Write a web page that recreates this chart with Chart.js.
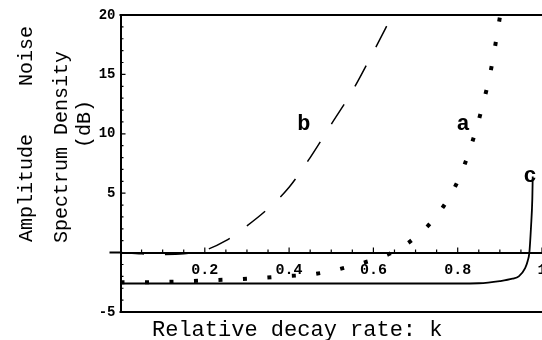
<!DOCTYPE html>
<html><head><meta charset="utf-8">
<script src="https://cdn.jsdelivr.net/npm/chart.js@4.4.1/dist/chart.umd.min.js"></script>
<style>html,body{margin:0;padding:0;background:#fff;overflow:hidden}canvas{display:block}</style>
</head><body>
<canvas id="c" width="542" height="340" style="width:542px;height:340px"></canvas>
<script>
// ---- data ----
const kA   = [0, 0.1, 0.2, 0.3, 0.4, 0.45, 0.5, 0.55, 0.6, 0.65, 0.7, 0.75, 0.8, 0.83, 0.86, 0.88, 0.9];
const valA = [-2.5, -2.47, -2.35, -2.2, -1.97, -1.85, -1.55, -1.1, -0.6, 0.1, 1.3, 3.1, 6.0, 8.8, 12.5, 15.6, 19.8];

const kB   = [0, 0.05, 0.1, 0.15, 0.2, 0.25, 0.3, 0.35, 0.4, 0.45, 0.5, 0.55, 0.6, 0.645];
const valB = [0, -0.1, -0.15, -0.1, 0.2, 1.0, 2.25, 3.7, 5.5, 8.0, 10.8, 13.6, 16.9, 20.0];

const kC   = [0, 0.2, 0.4, 0.6, 0.8, 0.85, 0.9, 0.93, 0.945, 0.96, 0.966, 0.97, 0.974, 0.977, 0.978];
const valC = [-2.6, -2.6, -2.6, -2.6, -2.6, -2.58, -2.4, -2.2, -2.0, -1.3, -0.7, 0.0, 2.2, 4.5, 6.4];

const xTicks = [0.2, 0.4, 0.6, 0.8, 1];
const xTickLabels = ['0.2', '0.4', '0.6', '0.8', '1'];
const yTicks = [-5, 5, 10, 15, 20];
const yTickLabels = ['-5', '5', '10', '15', '20'];

const curveNames = ['a', 'b', 'c'];
const curveLabelK = [0.8126, 0.435, 0.9715];
const curveLabelV = [10.3, 10.3, 5.95];

const yTitleLines = ['Amplitude    Noise', 'Spectrum Density', '(dB)'];
const xTitle = 'Relative decay rate: k';

// ---- chart ----
const MONO = "'Liberation Mono', 'Courier New', monospace";
const pts = (ks, vs) => ks.map((k, i) => ({x: k, y: vs[i]}));

const decor = {
  id: 'decor',
  afterDraw(chart) {
    const {ctx, chartArea: a, scales: {x, y}} = chart;
    const y0 = y.getPixelForValue(0);
    ctx.save();
    ctx.strokeStyle = '#000';
    ctx.fillStyle = '#000';
    ctx.lineWidth = 2;
    ctx.beginPath();
    ctx.moveTo(a.left - 1, a.top); ctx.lineTo(a.right, a.top);
    ctx.moveTo(a.left - 1, a.bottom); ctx.lineTo(a.right, a.bottom);
    ctx.moveTo(a.left - 11, y0); ctx.lineTo(a.left, y0);
    ctx.stroke();
    ctx.lineWidth = 1.2;
    ctx.beginPath();
    for (let v = -5; v <= 20; v++) {
      const py = y.getPixelForValue(v);
      const len = v % 5 === 0 ? 5 : 3;
      ctx.moveTo(a.left, py); ctx.lineTo(a.left + len, py);
    }
    for (let i = 1; i <= 20; i++) {
      const px = x.getPixelForValue(i * 0.05);
      const len = i % 4 === 0 ? 5 : 3;
      ctx.moveTo(px, y0); ctx.lineTo(px, y0 - len);
    }
    ctx.stroke();

    // y-axis title (three rotated lines)
    const yt = [[32, 134], [67, 147], [90, 124]];
    ctx.font = '20px ' + MONO;
    ctx.textAlign = 'center';
    ctx.textBaseline = 'alphabetic';
    yTitleLines.forEach((t, i) => {
      ctx.save();
      ctx.translate(yt[i][0], yt[i][1]);
      ctx.rotate(-Math.PI / 2);
      ctx.fillText(t, 0, 0);
      ctx.restore();
    });
    // x-axis title
    ctx.font = '22px ' + MONO;
    ctx.textAlign = 'left';
    ctx.fillText(xTitle, 152, 335.5);

    // curve labels
    ctx.font = 'bold 22px ' + MONO;
    ctx.textAlign = 'center';
    curveNames.forEach((n, i) => {
      ctx.fillText(n, x.getPixelForValue(curveLabelK[i]), y.getPixelForValue(curveLabelV[i]));
    });
    ctx.restore();
  }
};

new Chart(document.getElementById('c'), {
  type: 'line',
  data: {
    datasets: [
      { label: 'a', data: pts(kA, valA), borderColor: '#000', borderWidth: 4,
        borderDash: [4, 20.5], borderCapStyle: 'butt', cubicInterpolationMode: 'monotone', pointRadius: 0 },
      { label: 'b', data: pts(kB, valB), borderColor: '#000', borderWidth: 1.5,
        borderDash: [23.5, 21], cubicInterpolationMode: 'monotone', pointRadius: 0 },
      { label: 'c', data: pts(kC, valC), borderColor: '#000', borderWidth: 1.8,
        cubicInterpolationMode: 'monotone', pointRadius: 0 }
    ]
  },
  options: {
    responsive: false,
    animation: false,
    devicePixelRatio: 1,
    layout: { padding: { left: 0, top: 15, right: 0, bottom: 28 } },
    plugins: { legend: { display: false }, tooltip: { enabled: false } },
    scales: {
      x: {
        type: 'linear', min: 0, max: 1, position: { y: 0 },
        afterBuildTicks: s => { s.ticks = xTicks.map(v => ({ value: v })); },
        afterFit: s => { s.paddingLeft = 0; s.paddingRight = 0; },
        ticks: {
          autoSkip: false, maxRotation: 0, padding: 9, color: '#000',
          font: { family: MONO, size: 15, weight: 'bold' },
          callback: (v) => { const i = xTicks.findIndex(t => Math.abs(t - v) < 1e-9); return i < 0 ? '' : xTickLabels[i]; }
        },
        grid: { display: false, drawTicks: false },
        border: { display: true, color: '#000', width: 2 }
      },
      y: {
        type: 'linear', min: -5, max: 20, position: 'left',
        afterBuildTicks: s => { s.ticks = yTicks.map(v => ({ value: v })); },
        afterFit: s => { s.width = 120.5; },
        ticks: {
          autoSkip: false, padding: 5, color: '#000',
          font: { family: MONO, size: 14, weight: 'bold' },
          callback: (v) => { const i = yTicks.indexOf(v); return i < 0 ? '' : yTickLabels[i]; }
        },
        grid: { display: false, drawTicks: false },
        border: { display: true, color: '#000', width: 2 }
      }
    }
  },
  plugins: [decor]
});
</script></body></html>
